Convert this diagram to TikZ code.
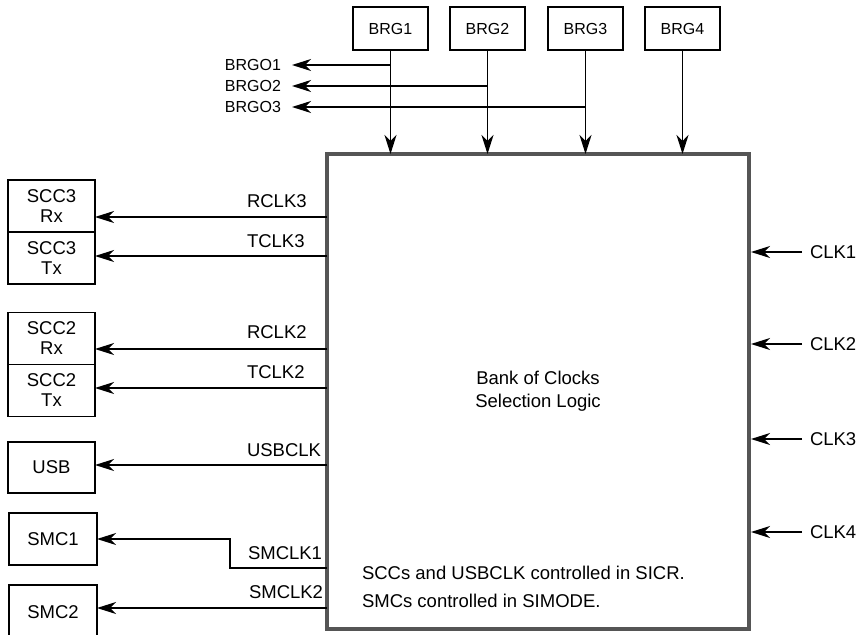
\documentclass[tikz,border=0pt]{standalone}
\usepackage{fontspec}
\setmainfont{Liberation Sans}
\usetikzlibrary{arrows.meta}
\definecolor{boxgray}{HTML}{555555}
\begin{document}
\begin{tikzpicture}[x=1pt,y=-1pt,
  box/.style={draw, line width=1.8pt, align=center, inner sep=0pt, outer sep=0pt,
    minimum width=87pt, minimum height=52pt, font=\fontsize{18.5}{20}\selectfont},
  brgbox/.style={box, minimum width=75pt, minimum height=43pt, font=\fontsize{16}{18}\selectfont},
  arr/.style={line width=1.3pt, -{Stealth[length=19pt,width=12pt,inset=6pt]}},
  lbl/.style={inner sep=0pt, outer sep=0pt, font=\fontsize{18.5}{22}\selectfont},
  smalllbl/.style={inner sep=0pt, outer sep=0pt, font=\fontsize{16}{18}\selectfont}]
\useasboundingbox (0,0) rectangle (861,634);
\clip (0,0) rectangle (861,634);

% main block
\node[draw=boxgray, line width=4.5pt, minimum width=422pt, minimum height=475pt,
  inner sep=0pt, outer sep=0pt] (main) at (538,391.5) {};
\node[lbl, align=center, font=\fontsize{18.5}{22.5}\selectfont] (logic) at (538,391) {Bank of Clocks\\Selection Logic};
\node[lbl, anchor=base west] (note1) at (362,579) {SCCs and USBCLK controlled in SICR.};
\node[lbl, anchor=base west] (note2) at (362,607) {SMCs controlled in SIMODE.};

% BRG boxes
\node[brgbox] (brg1) at (390.5,28.5) {BRG1};
\node[brgbox] (brg2) at (487.5,28.5) {BRG2};
\node[brgbox] (brg3) at (585.5,28.5) {BRG3};
\node[brgbox] (brg4) at (682.5,28.5) {BRG4};
\foreach \b in {brg1,brg2,brg3,brg4}
  \draw[arr] (\b.south) -- (\b.south |- main.north);

% BRGO outputs
\node[smalllbl, anchor=east] (brgo1) at (281,65) {BRGO1};
\node[smalllbl, anchor=east] (brgo2) at (281,86) {BRGO2};
\node[smalllbl, anchor=east] (brgo3) at (281,107) {BRGO3};
\draw[arr] (brg1.south |- brgo1.east) -- ([xshift=11pt]brgo1.east);
\draw[arr] (brg2.south |- brgo2.east) -- ([xshift=11pt]brgo2.east);
\draw[arr] (brg3.south |- brgo3.east) -- ([xshift=11pt]brgo3.east);

% left boxes
\node[box] (scc3rx) at (51.5,206) {SCC3\\Rx};
\node[box] (scc3tx) at (51.5,258) {SCC3\\Tx};
\node[box] (scc2rx) at (51.5,338.5) {SCC2\\Rx};
\node[box] (scc2tx) at (51.5,390.5) {SCC2\\Tx};
\node[box, minimum height=51pt] (usb) at (51.5,467.5) {USB};
\node[box, minimum width=88pt] (smc1) at (53,539) {SMC1};
\node[box, minimum width=88pt, minimum height=60pt, anchor=north] (smc2) at (53,585) {\raisebox{6pt}{SMC2}};

% left clock outputs
\coordinate (yr3) at (0,217);
\coordinate (yt3) at (0,256);
\coordinate (yr2) at (0,349);
\coordinate (yt2) at (0,388);
\coordinate (yusb) at (0,465);
\coordinate (ysm1) at (0,568);
\coordinate (ysm2) at (0,608);
\coordinate (bend) at (230,568);
\draw[arr] (main.west |- yr3) -- (scc3rx.east |- yr3);
\draw[arr] (main.west |- yt3) -- (scc3tx.east |- yt3);
\draw[arr] (main.west |- yr2) -- (scc2rx.east |- yr2);
\draw[arr] (main.west |- yt2) -- (scc2tx.east |- yt2);
\draw[arr] (main.west |- yusb) -- (usb.east |- yusb);
\draw[arr] (main.west |- ysm1) -- (bend) |- (smc1.east);
\draw[arr] (main.west |- ysm2) -- (smc2.east |- ysm2);

\node[lbl, anchor=base west] (lr3) at (247,207) {RCLK3};
\node[lbl, anchor=base west] (lt3) at (247,247) {TCLK3};
\node[lbl, anchor=base west] (lr2) at (247,338) {RCLK2};
\node[lbl, anchor=base west] (lt2) at (247,378) {TCLK2};
\node[lbl, anchor=base west] (lusb) at (247,456) {USBCLK};
\node[lbl, anchor=base west] (lsm1) at (248,559) {SMCLK1};
\node[lbl, anchor=base west] (lsm2) at (249,598) {SMCLK2};

% right clock inputs
\node[lbl, anchor=west] (clk1) at (810,252) {CLK1};
\node[lbl, anchor=west] (clk2) at (810,344) {CLK2};
\node[lbl, anchor=west] (clk3) at (810,439) {CLK3};
\node[lbl, anchor=west] (clk4) at (810,532) {CLK4};
\foreach \c in {clk1,clk2,clk3,clk4}
  \draw[arr] ([xshift=-8pt]\c.west) -- ([xshift=2pt]main.east |- \c.west);
\end{tikzpicture}
\end{document}
